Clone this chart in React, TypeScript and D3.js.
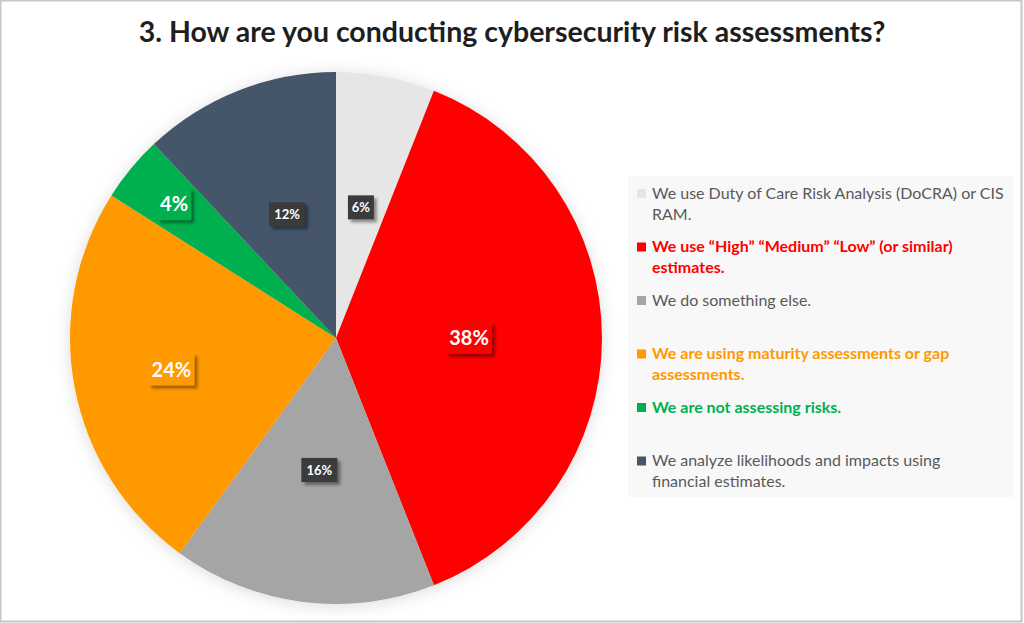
import { useEffect, useRef } from 'react';
import { select, pie, arc, PieArcDatum } from 'd3';

const title = '3. How are you conducting cybersecurity risk assessments?';

const categories = [
  'We use Duty of Care Risk Analysis (DoCRA) or CIS RAM.',
  'We use “High” “Medium” “Low” (or similar) estimates.',
  'We do something else.',
  'We are using maturity assessments or gap assessments.',
  'We are not assessing risks.',
  'We analyze likelihoods and impacts using financial estimates.',
];

// legend text as wrapped in the original
const legendLines = [
  ['We use Duty of Care Risk Analysis (DoCRA) or CIS', 'RAM.'],
  ['We use “High” “Medium” “Low” (or similar)', 'estimates.'],
  ['We do something else.'],
  ['We are using maturity assessments or gap', 'assessments.'],
  ['We are not assessing risks.'],
  ['We analyze likelihoods and impacts using', 'financial estimates.'],
];

const values = [6, 38, 16, 24, 4, 12];

const sliceColors = ['#e7e6e6', '#ff0000', '#a5a5a5', '#ff9900', '#00b050', '#44546a'];
const legendTextColors = ['#595959', '#ff0000', '#595959', '#ff9900', '#00b050', '#595959'];
const legendBold = [false, true, false, true, true, false];
// big coloured boxes vs small dark boxes (as in the source chart)
const bigLabel = [false, true, false, true, true, false];
// label distance from centre, as fraction of radius
const labelDist = [0.5, 0.5, 0.5, 0.63, 0.79, 0.5];

const W = 1024;
const H = 623;
const cx = 336;
const cy = 338;
const R = 266;

export default function App() {
  const svgRef = useRef<SVGSVGElement>(null);

  useEffect(() => {
    if (!svgRef.current) return;
    const svg = select(svgRef.current);
    svg.selectAll('*').remove();

    const defs = svg.append('defs');
    defs
      .append('filter')
      .attr('id', 'pieShadow')
      .attr('x', '-10%')
      .attr('y', '-10%')
      .attr('width', '120%')
      .attr('height', '120%')
      .append('feDropShadow')
      .attr('dx', 0)
      .attr('dy', 2)
      .attr('stdDeviation', 8)
      .attr('flood-color', '#000')
      .attr('flood-opacity', 0.14);
    defs
      .append('filter')
      .attr('id', 'boxShadow')
      .attr('x', '-30%')
      .attr('y', '-30%')
      .attr('width', '160%')
      .attr('height', '160%')
      .append('feDropShadow')
      .attr('dx', 3)
      .attr('dy', 3)
      .attr('stdDeviation', 1.5)
      .attr('flood-color', '#000')
      .attr('flood-opacity', 0.4);

    svg.append('rect').attr('width', W).attr('height', H).attr('fill', '#fff');
    svg
      .append('rect')
      .attr('x', 0.5)
      .attr('y', 0.5)
      .attr('width', W - 3)
      .attr('height', H - 2)
      .attr('fill', 'none')
      .attr('stroke', '#c6c6c6')
      .attr('stroke-width', 2);

    svg
      .append('text')
      .attr('x', 512)
      .attr('y', 42)
      .attr('text-anchor', 'middle')
      .style('font-family', 'Lato, sans-serif')
      .style('font-weight', 'bold')
      .style('font-size', '28.5px')
      .attr('fill', '#1e1e1e')
      .text(title);

    const pieGen = pie<number>().sort(null).value((d) => d);
    const arcs = pieGen(values);
    const arcGen = arc<PieArcDatum<number>>().innerRadius(0).outerRadius(R);

    const g = svg.append('g').attr('transform', `translate(${cx},${cy})`);
    g.append('g')
      .attr('filter', 'url(#pieShadow)')
      .selectAll('path')
      .data(arcs)
      .join('path')
      .attr('d', arcGen)
      .attr('fill', (_, i) => sliceColors[i]);

    arcs.forEach((a, i) => {
      const r = R * labelDist[i];
      const [lx, ly] = arc<PieArcDatum<number>>().innerRadius(r).outerRadius(r).centroid(a);
      const lg = g.append('g').attr('transform', `translate(${lx},${ly})`);
      const big = bigLabel[i];
      const fs = big ? 20 : 13;
      const bw = big ? (String(values[i]).length > 1 ? 46 : 34) : String(values[i]).length > 1 ? 36 : 26;
      const bh = big ? 32 : 24;
      lg.append('rect')
        .attr('x', -bw / 2)
        .attr('y', -bh / 2)
        .attr('width', bw)
        .attr('height', bh)
        .attr('fill', big ? sliceColors[i] : '#3a3a3a')
        .attr('filter', 'url(#boxShadow)');
      lg.append('text')
        .attr('text-anchor', 'middle')
        .attr('dy', '0.36em')
        .style('font-family', 'Lato, sans-serif')
        .style('font-weight', 'bold')
        .style('font-size', `${fs}px`)
        .attr('fill', '#fff')
        .text(`${values[i]}%`);
    });

    // legend
    const leg = svg.append('g');
    leg.append('rect')
      .attr('x', 628)
      .attr('y', 176)
      .attr('width', 385)
      .attr('height', 321)
      .attr('fill', '#f8f8f8');

    categories.forEach((c, i) => {
      const y0 = 193 + i * 53.5;
      const item = leg.append('g').attr('transform', `translate(0,${y0})`);
      item.append('title').text(c);
      item.append('rect')
        .attr('x', 637)
        .attr('y', -4)
        .attr('width', 9)
        .attr('height', 9)
        .attr('fill', sliceColors[i]);
      legendLines[i].forEach((line, j) => {
        item.append('text')
          .attr('x', 652)
          .attr('y', j * 21)
          .attr('dy', '0.35em')
          .style('font-family', 'Lato, sans-serif')
          .style('font-size', '16px')
          .style('font-weight', legendBold[i] ? 'bold' : 'normal')
          .attr('fill', legendTextColors[i])
          .text(line);
      });
    });
  }, []);

  return (
    <div style={{ position: 'absolute', left: 0, top: 0 }}>
      <svg ref={svgRef} width={W} height={H} style={{ display: 'block' }} />
    </div>
  );
}
